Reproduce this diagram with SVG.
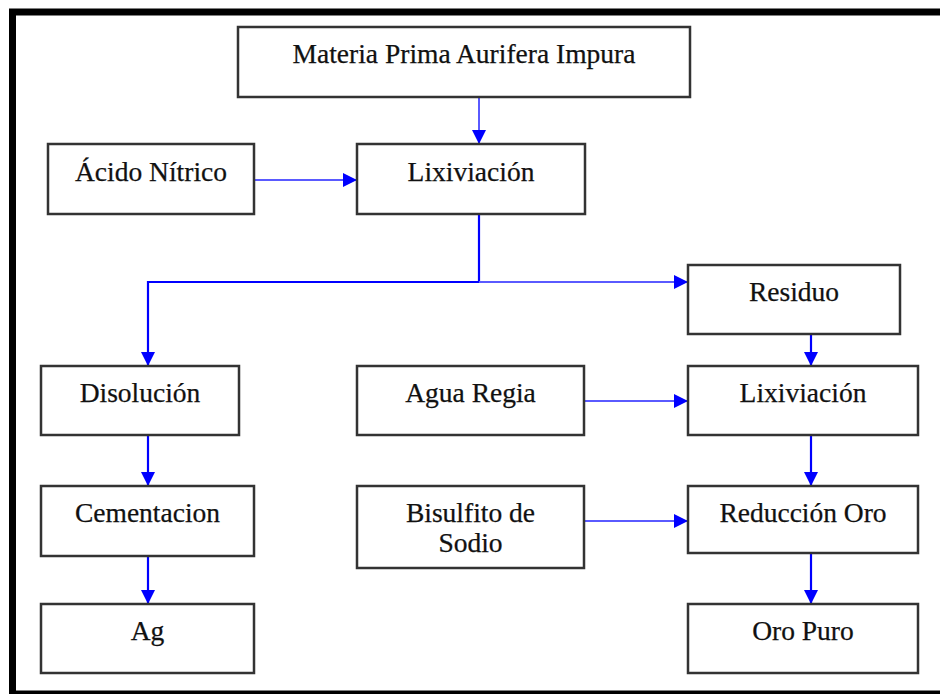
<svg xmlns="http://www.w3.org/2000/svg" width="940" height="694" viewBox="0 0 940 694">
  <style>
    .box { fill: #ffffff; stroke: #333333; stroke-width: 2.5; }
    .lbl { font-family: 'Liberation Serif', 'Times New Roman', serif; font-size: 27.5px; fill: #111111; stroke: #111111; stroke-width: 0.25; text-anchor: middle; }
    .wire { fill: none; stroke: #0000ff; stroke-width: 2.2; }
    .wire.soft { stroke: #5a5aff; stroke-width: 2; }
  </style>
  <defs>
    <marker id="head" viewBox="0 0 14 14" refX="14" refY="7" markerWidth="14" markerHeight="14" markerUnits="userSpaceOnUse" orient="auto">
      <path d="M0,0 L14,7 L0,14 z" fill="#0000ff"/>
    </marker>
  </defs>

  <rect width="940" height="694" fill="#ffffff"/>
  <!-- outer frame (right side runs off the page) -->
  <rect x="12.5" y="12" width="940" height="682" fill="none" stroke="#000000" stroke-width="7"/>

  <g id="connectors">
    <line class="wire soft" x1="479" y1="97" x2="479" y2="144" marker-end="url(#head)"/>
    <line class="wire soft" x1="254" y1="180" x2="357" y2="180" marker-end="url(#head)"/>
    <polyline class="wire" points="479,214 479,282 148,282 148,366" marker-end="url(#head)"/>
    <line class="wire soft" x1="479" y1="282" x2="688" y2="282" marker-end="url(#head)"/>
    <line class="wire" x1="811" y1="334" x2="811" y2="366" marker-end="url(#head)"/>
    <line class="wire soft" x1="584" y1="401" x2="688" y2="401" marker-end="url(#head)"/>
    <line class="wire" x1="811" y1="435" x2="811" y2="486" marker-end="url(#head)"/>
    <line class="wire soft" x1="584" y1="521" x2="688" y2="521" marker-end="url(#head)"/>
    <line class="wire" x1="811" y1="553" x2="811" y2="604" marker-end="url(#head)"/>
    <line class="wire" x1="148" y1="435" x2="148" y2="486" marker-end="url(#head)"/>
    <line class="wire" x1="148" y1="556" x2="148" y2="604" marker-end="url(#head)"/>
  </g>

  <g id="materia-prima">
    <rect class="box" x="238" y="27" width="452" height="70"/>
    <text class="lbl" x="464" y="63">Materia Prima Aurifera Impura</text>
  </g>
  <g id="acido-nitrico">
    <rect class="box" x="48" y="144" width="206" height="70"/>
    <text class="lbl" x="151" y="181">Ácido Nítrico</text>
  </g>
  <g id="lixiviacion-1">
    <rect class="box" x="357" y="144" width="228" height="70"/>
    <text class="lbl" x="471" y="181">Lixiviación</text>
  </g>
  <g id="residuo">
    <rect class="box" x="688" y="265" width="212" height="69"/>
    <text class="lbl" x="794" y="301">Residuo</text>
  </g>
  <g id="disolucion">
    <rect class="box" x="41" y="366" width="198" height="69"/>
    <text class="lbl" x="140" y="402">Disolución</text>
  </g>
  <g id="agua-regia">
    <rect class="box" x="357" y="366" width="227" height="69"/>
    <text class="lbl" x="470.5" y="402">Agua Regia</text>
  </g>
  <g id="lixiviacion-2">
    <rect class="box" x="688" y="366" width="230" height="69"/>
    <text class="lbl" x="803" y="402">Lixiviación</text>
  </g>
  <g id="cementacion">
    <rect class="box" x="41" y="486" width="213" height="70"/>
    <text class="lbl" x="147.5" y="522">Cementacion</text>
  </g>
  <g id="bisulfito">
    <rect class="box" x="357" y="486" width="227" height="82"/>
    <text class="lbl" x="470.5" y="522">Bisulfito de</text>
    <text class="lbl" x="470.5" y="552">Sodio</text>
  </g>
  <g id="reduccion-oro">
    <rect class="box" x="688" y="486" width="230" height="67"/>
    <text class="lbl" x="803" y="522">Reducción Oro</text>
  </g>
  <g id="ag">
    <rect class="box" x="41" y="604" width="213" height="69"/>
    <text class="lbl" x="147.5" y="640">Ag</text>
  </g>
  <g id="oro-puro">
    <rect class="box" x="688" y="604" width="230" height="69"/>
    <text class="lbl" x="803" y="640">Oro Puro</text>
  </g>
</svg>
